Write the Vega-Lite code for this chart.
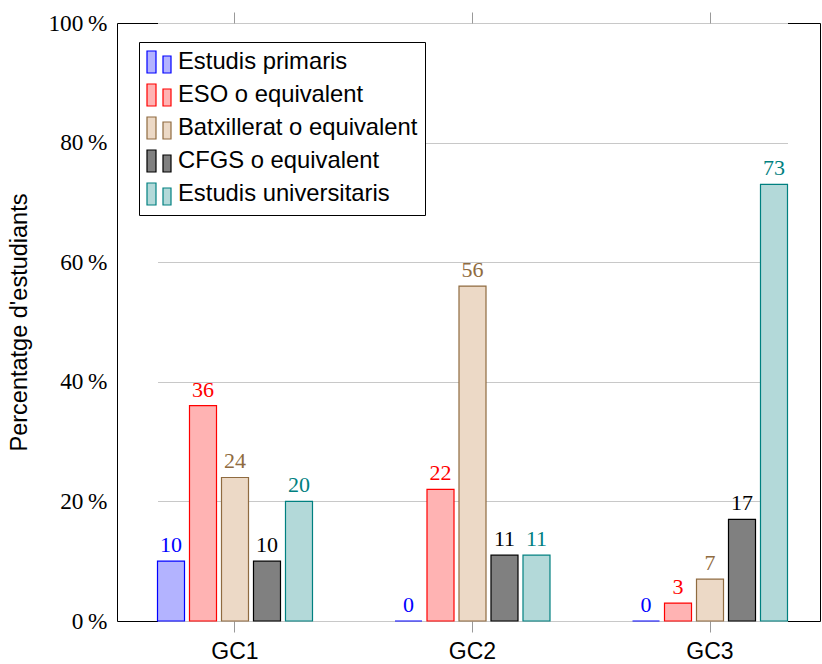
{
  "$schema": "https://vega.github.io/schema/vega-lite/v6.json",
  "width": 703,
  "height": 598,
  "autosize": {"type": "none"},
  "padding": {"left": 117, "top": 23, "right": 2, "bottom": 43},
  "background": "white",
  "config": {
    "view": {"stroke": "black", "strokeWidth": 1},
    "axis": {"domain": false, "grid": false}
  },
  "data": {
    "values": [
      {"grup": "GC1", "nivell": "Estudis primaris", "pct": 10},
      {"grup": "GC1", "nivell": "ESO o equivalent", "pct": 36},
      {"grup": "GC1", "nivell": "Batxillerat o equivalent", "pct": 24},
      {"grup": "GC1", "nivell": "CFGS o equivalent", "pct": 10},
      {"grup": "GC1", "nivell": "Estudis universitaris", "pct": 20},
      {"grup": "GC2", "nivell": "Estudis primaris", "pct": 0},
      {"grup": "GC2", "nivell": "ESO o equivalent", "pct": 22},
      {"grup": "GC2", "nivell": "Batxillerat o equivalent", "pct": 56},
      {"grup": "GC2", "nivell": "CFGS o equivalent", "pct": 11},
      {"grup": "GC2", "nivell": "Estudis universitaris", "pct": 11},
      {"grup": "GC3", "nivell": "Estudis primaris", "pct": 0},
      {"grup": "GC3", "nivell": "ESO o equivalent", "pct": 3},
      {"grup": "GC3", "nivell": "Batxillerat o equivalent", "pct": 7},
      {"grup": "GC3", "nivell": "CFGS o equivalent", "pct": 17},
      {"grup": "GC3", "nivell": "Estudis universitaris", "pct": 73}
    ]
  },
  "encoding": {
    "y": {
      "field": "pct",
      "type": "quantitative",
      "scale": {"domain": [0, 100], "nice": false},
      "axis": {
        "title": "Percentatge d'estudiants",
        "titleFont": "Liberation Sans",
        "titleFontSize": 23.5,
        "titleFontWeight": "normal",
        "titleColor": "black",
        "titlePadding": 16,
        "values": [0, 20, 40, 60, 80, 100],
        "labelExpr": "datum.value + '\u2009%'",
        "labelFont": "Liberation Serif",
        "labelFontSize": 23.3,
        "labelColor": "black",
        "labelPadding": 10,
        "ticks": false,
        "grid": true,
        "gridColor": "#c8c8c8",
        "gridWidth": 1
      }
    },
    "xOffset": {
      "field": "nivell",
      "type": "nominal",
      "scale": {
        "domain": ["Estudis primaris", "ESO o equivalent", "Batxillerat o equivalent", "CFGS o equivalent", "Estudis universitaris"],
        "paddingInner": 0.156,
        "paddingOuter": 0
      }
    }
  },
  "layer": [
    {
      "mark": {"type": "bar", "strokeWidth": 1.2},
      "encoding": {
        "x": {
          "field": "grup",
          "type": "nominal",
          "scale": {"range": [40.5, 670.5], "paddingInner": 0.3474, "paddingOuter": 0},
          "axis": {
            "title": null,
            "orient": "bottom",
            "labelAngle": 0,
            "labelFont": "Liberation Sans",
            "labelFontSize": 23,
            "labelColor": "black",
            "labelPadding": 8,
            "tickSize": 11,
            "tickColor": "#999999"
          }
        },
        "fill": {
          "field": "nivell",
          "type": "nominal",
          "scale": {
            "domain": ["Estudis primaris", "ESO o equivalent", "Batxillerat o equivalent", "CFGS o equivalent", "Estudis universitaris"],
            "range": ["#b3b3ff", "#ffb3b3", "#ecd9c6", "#808080", "#b3d9d9"]
          },
          "legend": {
            "title": null,
            "orient": "none",
            "legendX": 22,
            "legendY": 19,
            "strokeColor": "black",
            "fillColor": "white",
            "padding": 7,
            "labelFont": "Liberation Sans",
            "labelFontSize": 23.8,
            "labelColor": "black",
            "labelOffset": 6,
            "labelLimit": 400,
            "labelExpr": "datum.label + ' '",
            "rowPadding": 5,
            "symbolType": "M-1,-0.917H-0.25V0.917H-1Z M0.333,-0.5H1V0.917H0.333Z",
            "symbolSize": 576,
            "symbolStrokeWidth": 1.2
          }
        },
        "stroke": {
          "field": "nivell",
          "type": "nominal",
          "scale": {
            "domain": ["Estudis primaris", "ESO o equivalent", "Batxillerat o equivalent", "CFGS o equivalent", "Estudis universitaris"],
            "range": ["#0000ff", "#ff0000", "#8f6b40", "#000000", "#008080"]
          },
          "legend": {
            "title": null,
            "orient": "none",
            "legendX": 22,
            "legendY": 19,
            "strokeColor": "black",
            "fillColor": "white",
            "padding": 7,
            "labelFont": "Liberation Sans",
            "labelFontSize": 23.8,
            "labelColor": "black",
            "labelOffset": 6,
            "labelLimit": 400,
            "labelExpr": "datum.label + ' '",
            "rowPadding": 5,
            "symbolType": "M-1,-0.917H-0.25V0.917H-1Z M0.333,-0.5H1V0.917H0.333Z",
            "symbolSize": 576,
            "symbolStrokeWidth": 1.2
          }
        }
      }
    },
    {
      "mark": {"type": "text", "font": "Liberation Serif", "fontSize": 22, "baseline": "alphabetic", "dy": -9},
      "encoding": {
        "x": {
          "field": "grup",
          "type": "nominal",
          "axis": {
            "title": null,
            "orient": "top",
            "labels": false,
            "tickSize": 11,
            "tickColor": "#999999"
          }
        },
        "text": {"field": "pct", "type": "quantitative"},
        "color": {
          "field": "nivell",
          "type": "nominal",
          "scale": {
            "domain": ["Estudis primaris", "ESO o equivalent", "Batxillerat o equivalent", "CFGS o equivalent", "Estudis universitaris"],
            "range": ["#0000ff", "#ff0000", "#8f6b40", "#000000", "#008080"]
          },
          "legend": null
        }
      }
    }
  ],
  "resolve": {"axis": {"x": "independent"}}
}
